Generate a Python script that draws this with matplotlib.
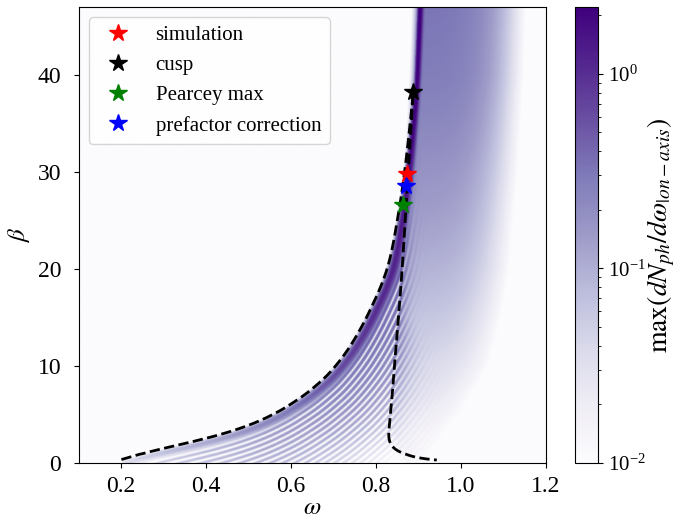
import numpy as np
import matplotlib
matplotlib.use("Agg")
import matplotlib.pyplot as plt
from matplotlib.colors import LogNorm

plt.rcParams["font.family"] = ["Liberation Serif", "DejaVu Serif"]
plt.rcParams["mathtext.fontset"] = "stix"

# ---- caustic (dashed curve) ----
# left branch, from the foot up to the cusp
left_w = [0.201, 0.26, 0.30, 0.37, 0.45, 0.50, 0.55, 0.605, 0.66, 0.71, 0.76,
          0.80, 0.82, 0.835, 0.849, 0.858, 0.866, 0.873, 0.879, 0.884, 0.888]
left_b = [0.35, 1.1, 1.5, 2.2, 3.1, 3.85, 4.75, 6.15, 7.9, 10.1, 13.4,
          17.0, 19.0, 21.2, 24.7, 27.0, 29.5, 32.0, 34.5, 36.5, 38.2]
# right branch, from the cusp down to the axis
right_w = [0.888, 0.880, 0.873, 0.866, 0.860, 0.853, 0.847, 0.841, 0.835,
           0.830, 0.829, 0.833, 0.843, 0.872, 0.903, 0.943]
right_b = [38.2, 33.0, 28.0, 23.0, 19.0, 15.0, 12.0, 8.5, 5.5,
           3.3, 2.3, 1.7, 1.4, 0.82, 0.48, 0.3]
# bright ridge continuing above the cusp
ridge_w = [0.888, 0.892, 0.896]
ridge_b = [38.2, 42.5, 47.0]

# ---- intensity map, approximated from the colours ----
# peak and width (px) of the main fringe along the left branch
amp_b = [0, 1, 3, 6, 10, 15, 20, 30, 38, 47]
amp_v = [0.025, 0.05, 0.13, 0.32, 0.65, 1.0, 1.2, 1.6, 2.2, 2.3]
wid_b = [0, 10, 20, 30, 38, 47]
wid_v = [4.0, 5.0, 5.0, 3.5, 2.5, 2.5]
# strength of the secondary fringes relative to the main one
fr_b = [0, 3, 6, 10, 20, 28, 35, 47]
fr_v = [0.9, 0.8, 0.6, 0.5, 0.35, 0.12, 0.0, 0.0]
# how far (in omega) the fringes leak past the right branch
leak_b = [0, 8, 15, 47]
leak_v = [0.06, 0.04, 0.012, 0.008]
# diffuse emission right of the caustic
glow_b = [0, 3, 5, 10, 15, 20, 30, 40, 47]
glow_x0 = [0.86, 0.835, 0.834, 0.844, 0.853, 0.862, 0.875, 0.890, 0.896]
glow_lvl = [0.011, 0.013, 0.018, 0.035, 0.06, 0.09, 0.17, 0.28, 0.32]
glow_end = [0.90, 0.95, 0.99, 1.06, 1.09, 1.11, 1.13, 1.145, 1.15]

# ---- markers ----
star_labels = ["simulation", "cusp", "Pearcey max", "prefactor correction"]
star_colors = ["red", "black", "green", "blue"]
star_w = [0.874, 0.888, 0.863, 0.871]
star_b = [29.8, 38.2, 26.6, 28.6]

W_MIN, W_MAX, B_MIN, B_MAX = 0.1, 1.2, 0.0, 47.0
VMIN, VMAX = 1e-2, 2.2

fig = plt.figure(figsize=(6.85, 5.19), dpi=100)
ax = fig.add_axes([0.1146, 0.108, 0.6825, 0.8785])
cax = fig.add_axes([0.8394, 0.108, 0.0336, 0.8785])

# pixel scale of the axes, so fringe widths are in screen units
pos = ax.get_position()
sx = pos.width * 685 / (W_MAX - W_MIN)
sy = pos.height * 519 / (B_MAX - B_MIN)


def smooth_curve(xs, ys, n=500, k=15):
    xs, ys = np.asarray(xs, float), np.asarray(ys, float)
    seg = np.hypot(np.diff(xs) * sx, np.diff(ys) * sy)
    s = np.concatenate([[0], np.cumsum(seg)])
    ss = np.linspace(0, s[-1], n)
    cx, cy = np.interp(ss, s, xs), np.interp(ss, s, ys)
    h = k // 2
    cx[h:-h] = np.convolve(cx, np.ones(k) / k, "valid")
    cy[h:-h] = np.convolve(cy, np.ones(k) / k, "valid")
    return cx, cy


nx, ny = 700, 600
w = np.linspace(W_MIN, W_MAX, nx)
b = np.linspace(B_MIN, B_MAX, ny)
W, B = np.meshgrid(w, b)

cw, cb = smooth_curve(left_w + ridge_w[1:], left_b + ridge_b[1:], 500, 35)
cx = (cw - W_MIN) * sx
cy = cb * sy
px = (w - W_MIN) * sx
D = np.empty_like(W)
BF = np.empty_like(W)
for i in range(ny):
    dd = (px[:, None] - cx[None, :]) ** 2 + (b[i] * sy - cy[None, :]) ** 2
    j = dd.argmin(axis=1)
    D[i] = np.sqrt(dd[np.arange(nx), j])
    BF[i] = cb[j]
inside = W > np.interp(B, cb, cw)
D = np.where(inside, D, -D)

# right edge of the caustic (monotonic part of the right branch)
xr = np.interp(B, right_b[10::-1], right_w[10::-1])

A = np.interp(BF, amp_b, amp_v)
wd = np.interp(BF, wid_b, wid_v)
# sharper fall-off on the dark (outer) side of the caustic
main = A * np.exp(-((D - wd) / np.where(D < wd, 0.7 * wd, wd)) ** 2)
ramp = np.clip((D - 8) / 5, 0, 1)
fr = np.interp(BF, fr_b, fr_v)
damp = np.exp(-np.clip(W - xr, 0, None) / np.interp(B, leak_b, leak_v))
stripes = (A * fr * ramp * damp * np.cos(np.pi * (D - 13) / 5) ** 2
           * np.exp(-(D / 60) ** 2))

x0 = np.interp(B, glow_b, glow_x0)
lvl = np.interp(B, glow_b, glow_lvl)
xe = np.interp(B, glow_b, glow_end)
sg = (xe - x0) / np.log(lvl / VMIN) ** 0.25
glow = lvl * np.exp(-(np.clip(W - x0, 0, None) / sg) ** 4) / (1 + np.exp(-(W - x0) / 0.004))

Z = main + stripes + glow + 1e-3

im = ax.imshow(Z, extent=[W_MIN, W_MAX, B_MIN, B_MAX], origin="lower", aspect="auto",
               cmap="Purples", norm=LogNorm(VMIN, VMAX), interpolation="bilinear")

lw_, lb_ = smooth_curve(left_w, left_b, 300, 25)
rw_, rb_ = smooth_curve(right_w, right_b, 300, 15)
ax.plot(np.concatenate([lw_, rw_]), np.concatenate([lb_, rb_]), "k--", lw=2)
for lab, c, sw, sb in zip(star_labels, star_colors, star_w, star_b):
    ax.plot(sw, sb, ls="none", marker="*", ms=13, color=c, label=lab)

ax.set_xlim(W_MIN, W_MAX)
ax.set_ylim(B_MIN, B_MAX)
ax.set_xlabel(r"$\omega$", fontsize=18, labelpad=0)
ax.set_ylabel(r"$\beta$", fontsize=18, labelpad=4)
ax.tick_params(labelsize=17)
ax.tick_params(axis="x", pad=6)
ax.tick_params(axis="y", pad=9)
ax.legend(loc="upper left", fontsize=15, labelspacing=0.5)

cb_ = fig.colorbar(im, cax=cax)
cb_.ax.tick_params(labelsize=15)
cb_.set_label(r"$\max(dN_{ph}/d\omega_{|on-axis})$", fontsize=20, labelpad=0)

fig.savefig("out.png", dpi=100)
